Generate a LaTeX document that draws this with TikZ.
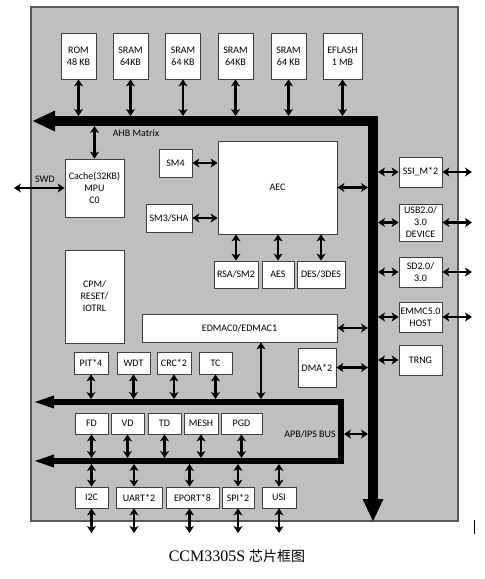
\documentclass[tikz,border=0pt]{standalone}
\usepackage{fontspec}
\setmainfont{Carlito}
\newfontfamily\capfont{Liberation Serif}
\newfontfamily\cjk{Noto Sans CJK SC}
\usetikzlibrary{arrows.meta}

\begin{document}
\begin{tikzpicture}[x=1pt,y=-1pt,
  blk/.style={draw=black!75, fill=white, line width=0.8pt, align=center, inner sep=0pt, font=\fontsize{10}{12}\selectfont},
  dbl/.style={line width=2.6pt, {Stealth[length=7pt,width=9pt,inset=2pt]}-{Stealth[length=7pt,width=9pt,inset=2pt]}},
  ahb/.style={line width=10pt, {Triangle[length=23pt,width=19pt]}-{Triangle[length=23pt,width=19pt]}},
  apb/.style={line width=6pt, {Triangle[length=22pt,width=11pt]}-{Triangle[length=22pt,width=11pt]}},
  lbl/.style={font=\fontsize{10}{12}\selectfont}]
\useasboundingbox (0,0) rectangle (485,579);

%Chip frame
\draw[draw=black!65, fill=gray!50, line width=1.2pt] (31,7) rectangle (458,521);

%Memories
\node[blk, minimum width=35, minimum height=46] (rom) at (78.5,56) {ROM\\48 KB};
\node[blk, minimum width=35, minimum height=46] (sram1) at (130.5,56) {SRAM\\64KB};
\node[blk, minimum width=35, minimum height=46] (sram2) at (183,56) {SRAM\\64 KB};
\node[blk, minimum width=35, minimum height=46] (sram3) at (235.5,56) {SRAM\\64KB};
\node[blk, minimum width=35, minimum height=46] (sram4) at (288.5,56) {SRAM\\64 KB};
\node[blk, minimum width=39, minimum height=46] (eflash) at (342.5,56) {EFLASH\\1 MB};

%Core and security blocks
\node[blk, minimum width=59, minimum height=58] (cache) at (94.5,188) {Cache(32KB)\\MPU\\C0};
\node[blk, minimum width=33, minimum height=28] (sm4) at (175.5,163) {SM4};
\node[blk, minimum width=46, minimum height=28] (sm3) at (169,218) {SM3/SHA};
\node[blk, minimum width=119, minimum height=93] (aec) at (277.5,187.5) {AEC};
\node[blk, minimum width=44, minimum height=27] (rsa) at (236,274.5) {RSA/SM2};
\node[blk, minimum width=32, minimum height=27] (aes) at (278,274.5) {AES};
\node[blk, minimum width=48, minimum height=27] (des) at (321,274.5) {DES/3DES};
\node[blk, minimum width=59, minimum height=93] (cpm) at (94.5,296.5) {CPM/\\RESET/\\IOTRL};
\node[blk, minimum width=195, minimum height=28] (edmac) at (239.5,328) {EDMAC0/EDMAC1};
\node[blk, minimum width=38, minimum height=39] (dma) at (317,367.5) {DMA*2};

%High speed interfaces
\node[blk, minimum width=43, minimum height=30] (ssi) at (420.5,172) {SSI\_M*2};
\node[blk, minimum width=43, minimum height=37] (usb) at (420.5,222.5) {USB2.0/\\3.0\\DEVICE};
\node[blk, minimum width=43, minimum height=30] (sd) at (420.5,272) {SD2.0/\\3.0};
\node[blk, minimum width=43, minimum height=30] (emmc) at (420.5,317) {EMMC5.0\\HOST};
\node[blk, minimum width=43, minimum height=30] (trng) at (420.5,360) {TRNG};

%Peripherals above the APB bus
\node[blk, minimum width=34, minimum height=22] (pit) at (91,363) {PIT*4};
\node[blk, minimum width=33, minimum height=22] (wdt) at (133.5,363) {WDT};
\node[blk, minimum width=34, minimum height=22] (crc) at (174,363) {CRC*2};
\node[blk, minimum width=33, minimum height=22] (tc) at (215.5,363) {TC};

%Detectors inside the APB bus
\node[blk, minimum width=33, minimum height=21] (fd) at (91.5,423.5) {FD};
\node[blk, minimum width=33, minimum height=21] (vd) at (127.5,423.5) {VD};
\node[blk, minimum width=33, minimum height=21] (td) at (164.5,423.5) {TD};
\node[blk, minimum width=34, minimum height=21] (mesh) at (201,423.5) {MESH};
\node[blk, minimum width=41, minimum height=21] (pgd) at (241.5,423.5) {PGD};

%Peripherals below the APB bus
\node[blk, minimum width=33, minimum height=21] (i2c) at (91.5,497.5) {I2C};
\node[blk, minimum width=46, minimum height=21] (uart) at (139,497.5) {UART*2};
\node[blk, minimum width=53, minimum height=21] (eport) at (192.5,497.5) {EPORT*8};
\node[blk, minimum width=32, minimum height=21] (spi) at (238,497.5) {SPI*2};
\node[blk, minimum width=34, minimum height=21] (usi) at (279,497.5) {USI};

%AHB matrix
\coordinate (ahbL) at (32,121);
\coordinate (ahbC) at (373,121);
\coordinate (ahbE) at (373,522);
\coordinate (ahbTop) at (0,116);
\coordinate (ahbBot) at (0,126);
\coordinate (ahbIn) at (368,0);
\coordinate (ahbOut) at (378,0);
\draw[ahb] (ahbL) -- (ahbC) -- (ahbE);
\node[lbl] (ahblabel) at (136,133) {AHB Matrix};

%APB/IPS bus
\coordinate (apbA) at (32,402);
\coordinate (apbB) at (341,402);
\coordinate (apbC) at (341,461);
\coordinate (apbD) at (32,461);
\coordinate (apbT) at (0,399);
\coordinate (apbU) at (0,458);
\coordinate (apbV) at (0,464);
\coordinate (apbR) at (344,434);
\draw[apb] (apbA) -- (apbB) -- (apbC) -- (apbD);
\node[lbl] (apblabel) at (310,434) {APB/IPS BUS};

%Memories to AHB
\draw[dbl] (rom.south) -- (rom.south |- ahbTop);
\draw[dbl] (sram1.south) -- (sram1.south |- ahbTop);
\draw[dbl] (sram2.south) -- (sram2.south |- ahbTop);
\draw[dbl] (sram3.south) -- (sram3.south |- ahbTop);
\draw[dbl] (sram4.south) -- (sram4.south |- ahbTop);
\draw[dbl] (eflash.south) -- (eflash.south |- ahbTop);

%Core links
\coordinate (swd) at (14,188);
\draw[dbl] (swd) -- (cache.west);
\node[lbl] (swdlabel) at (45,179) {SWD};
\draw[dbl] (cache.north |- ahbBot) -- (cache.north);
\draw[dbl] (sm4.east) -- (sm4.east -| aec.west);
\draw[dbl] (sm3.east) -- (sm3.east -| aec.west);
\draw[dbl] (aec.south -| rsa.north) -- (rsa.north);
\draw[dbl] (aec.south -| aes.north) -- (aes.north);
\draw[dbl] (aec.south -| des.north) -- (des.north);
\draw[dbl] (aec.east) -- (aec.east -| ahbIn);
\draw[dbl] (edmac.east) -- (edmac.east -| ahbIn);
\draw[dbl] (dma.east) -- (dma.east -| ahbIn);
\draw[dbl] ([xshift=21.5pt]edmac.south) -- ([xshift=21.5pt]edmac.south |- apbT);
\draw[dbl] (apbR) -- (apbR -| ahbIn);

%High speed interfaces to AHB and outside
\coordinate (outR) at (472,0);
\draw[dbl] (ahbOut |- ssi.west) -- (ssi.west);
\draw[dbl] (ssi.east) -- (ssi.east -| outR);
\draw[dbl] (ahbOut |- usb.west) -- (usb.west);
\draw[dbl] (usb.east) -- (usb.east -| outR);
\draw[dbl] (ahbOut |- sd.west) -- (sd.west);
\draw[dbl] (sd.east) -- (sd.east -| outR);
\draw[dbl] (ahbOut |- emmc.west) -- (emmc.west);
\draw[dbl] (emmc.east) -- (emmc.east -| outR);
\draw[dbl] (ahbOut |- trng.west) -- (trng.west);

%Peripherals to APB
\draw[dbl] (pit.south) -- (pit.south |- apbT);
\draw[dbl] (wdt.south) -- (wdt.south |- apbT);
\draw[dbl] (crc.south) -- (crc.south |- apbT);
\draw[dbl] (tc.south) -- (tc.south |- apbT);
\draw[dbl] (fd.south) -- (fd.south |- apbU);
\draw[dbl] (vd.south) -- (vd.south |- apbU);
\draw[dbl] (td.south) -- (td.south |- apbU);
\draw[dbl] (mesh.south) -- (mesh.south |- apbU);
\draw[dbl] (pgd.south) -- (pgd.south |- apbU);

%Bottom peripherals
\coordinate (outB) at (0,533);
\draw[dbl] (i2c.north |- apbV) -- (i2c.north);
\draw[dbl] (i2c.south) -- (i2c.south |- outB);
\draw[dbl] ([xshift=-5pt]uart.north |- apbV) -- ([xshift=-5pt]uart.north);
\draw[dbl] ([xshift=-5pt]uart.south) -- ([xshift=-5pt]uart.south |- outB);
\draw[dbl] ([xshift=-3pt]eport.north |- apbV) -- ([xshift=-3pt]eport.north);
\draw[dbl] ([xshift=-3pt]eport.south) -- ([xshift=-3pt]eport.south |- outB);
\draw[dbl] (spi.north |- apbV) -- (spi.north);
\draw[dbl] (spi.south) -- (spi.south |- outB);
\draw[dbl] (usi.north |- apbV) -- (usi.north);
\draw[dbl] (usi.south) -- (usi.south |- outB);

%Stray mark
\draw[line width=0.8pt] (474,520) -- (474,534);

%Caption
\node (caption) at (237,556) {\capfont\fontsize{16}{18}\selectfont CCM3305S \cjk\fontsize{14}{16}\selectfont 芯片框图};

\end{tikzpicture}
\end{document}
